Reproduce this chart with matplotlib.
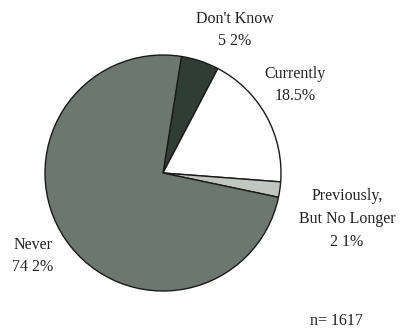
import matplotlib
matplotlib.use("Agg")
import matplotlib.pyplot as plt

categories = ["Don't Know", "Currently", "Previously,\nBut No Longer", "Never"]
values = [5.2, 18.5, 2.1, 74.2]
value_labels = ["5 2%", "18.5%", "2 1%", "74 2%"]
colors = ["#2f3d36", "#ffffff", "#c2c6c2", "#6b7770"]
n_label = "n= 1617"

W, H = 401, 328
fig = plt.figure(figsize=(W / 100, H / 100), dpi=100)
ax = fig.add_axes([0, 0, 1, 1])

cx, cy, r = 163, H - 173, 118
ax.pie(values, colors=colors, startangle=81, counterclock=False,
       center=(cx, cy), radius=r,
       wedgeprops=dict(edgecolor="#1a1a1a", linewidth=1.0))
ax.set_xlim(0, W)
ax.set_ylim(0, H)
ax.set_aspect("equal")
ax.axis("off")

font = dict(family="Liberation Serif", fontsize=11.5, color="#222222",
            ha="center", va="center", linespacing=1.55)

label_pos = [(235, 30), (295, 85), (347, 219), (33, 256)]
for cat, vl, (x, y) in zip(categories, value_labels, label_pos):
    ax.text(x, H - y, cat + "\n" + vl, **font)

ax.text(336, H - 321, n_label, **font)

fig.savefig("out.png", dpi=100)
